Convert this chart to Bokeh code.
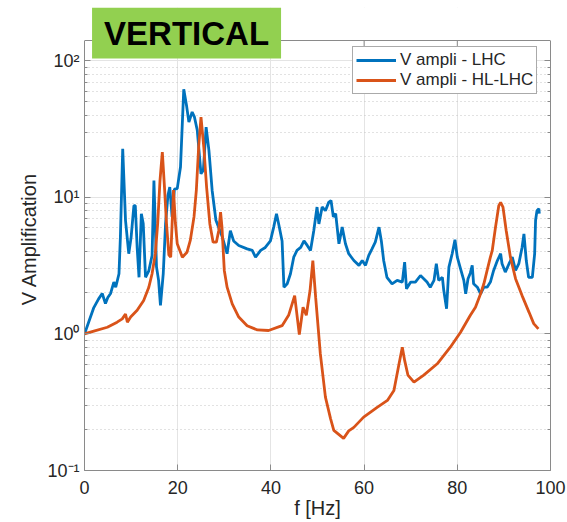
import math
from bokeh.plotting import figure
from bokeh.models import (FixedTicker, LogAxis, Label, Legend, LegendItem,
                          BoxAnnotation, Span)
from bokeh.embed import file_html
from bokeh.resources import INLINE

# ---- data ----
f_lhc = [0.0, 1.0, 2.0, 3.0, 3.8, 4.5, 5.0, 5.6, 6.3, 6.7,
         7.4, 7.7, 8.2, 8.8, 9.5, 10.0, 10.6, 10.9, 11.3, 11.7,
         12.2, 12.6, 13.1, 13.8, 14.5, 14.9, 15.45, 15.9, 16.3, 16.9,
         17.4, 17.9, 18.3, 18.8, 19.3, 19.9, 20.6, 21.3, 21.9, 22.4,
         23.1, 23.6, 24.2, 25.0, 25.5, 26.1, 26.7, 27.4, 28.2, 28.9,
         29.6, 30.2, 30.6, 31.3, 32.0, 33.1, 34.9, 36.0, 36.7, 37.8,
         38.8, 39.9, 40.6, 41.2, 41.7, 42.4, 42.8, 43.5, 44.2, 44.9,
         45.6, 46.4, 47.1, 47.8, 48.5, 49.2, 49.9, 50.3, 51.0, 51.7,
         52.4, 52.9, 53.4, 53.9, 54.6, 55.3, 56.0, 56.7, 57.8, 58.9,
         59.6, 60.3, 61.0, 61.7, 62.4, 63.2, 63.7, 64.2, 64.9, 66.0,
         67.1, 68.2, 68.7, 69.1, 70.0, 71.0, 72.1, 72.8, 73.5, 74.2,
         75.0, 75.5, 76.0, 76.8, 77.1, 77.7, 78.2, 78.9, 79.5, 80.0,
         80.7, 81.4, 81.8, 82.3, 82.8, 83.2, 83.5, 84.3, 85.0, 85.7,
         86.4, 87.1, 87.8, 88.6, 89.3, 89.6, 90.3, 91.1, 91.8, 92.5,
         93.2, 93.9, 94.3, 94.8, 95.3, 96.1, 96.6, 96.8, 97.1, 97.5,
         97.6]
a_lhc = [1.0, 1.25, 1.56, 1.8, 1.98, 1.67, 1.85, 1.98, 2.4, 2.2,
         2.76, 5.1, 22.7, 6.8, 3.87, 5.1, 8.7, 8.7, 4.3, 2.6,
         7.6, 6.45, 2.6, 2.9, 3.76, 13.3, 3.1, 2.47, 1.62, 2.77,
         6.45, 10.3, 11.9, 7.2, 11.5, 11.6, 16.7, 62.0, 47.0, 35.6,
         42.2, 38.7, 31.0, 14.9, 15.8, 32.7, 22.1, 11.2, 6.8, 5.9,
         5.1, 4.3, 3.87, 5.7, 4.8, 4.45, 4.2, 4.09, 3.65, 4.09,
         4.3, 4.8, 6.06, 7.6, 6.3, 4.8, 2.2, 2.33, 2.76, 3.65,
         4.09, 4.3, 4.8, 4.45, 4.09, 5.7, 8.5, 6.4, 8.5, 8.0,
         9.2, 9.5, 7.2, 7.6, 4.58, 6.06, 4.58, 3.87, 3.45, 3.18,
         3.45, 3.18, 3.76, 4.2, 4.7, 6.06, 4.8, 3.45, 2.6, 2.33,
         2.47, 2.4, 3.36, 2.14, 2.4, 2.4, 2.68, 2.54, 2.4, 2.2,
         2.47, 3.27, 2.47, 2.6, 2.08, 1.53, 3.09, 3.87, 4.9, 3.65,
         3.0, 2.47, 1.97, 2.54, 2.8, 3.18, 2.33, 2.2, 1.97, 2.2,
         2.2, 2.4, 2.92, 3.45, 3.87, 3.27, 2.84, 3.27, 3.65, 2.92,
         3.27, 4.3, 5.4, 3.45, 2.6, 2.6, 3.87, 6.8, 8.0, 8.27,
         7.6]

f_hl = [0.0, 2.0, 4.9, 7.0, 8.1, 8.8, 9.2, 9.9, 11.3, 12.7,
        13.8, 14.5, 15.2, 15.7, 16.2, 16.7, 17.2, 17.6, 18.1, 18.5,
        18.8, 19.1, 19.5, 19.9, 21.0, 22.0, 22.7, 23.5, 24.0, 24.5,
        25.0, 25.6, 26.2, 26.9, 27.6, 28.3, 28.8, 29.2, 29.5, 30.0,
        30.6, 31.7, 33.1, 34.9, 37.1, 39.5, 42.4, 43.8, 45.1, 46.1,
        46.9, 47.6, 48.4, 49.0, 49.6, 50.6, 51.7, 52.8, 53.5, 55.6,
        56.7, 57.8, 59.9, 62.8, 65.0, 66.4, 67.5, 68.2, 68.7, 69.4,
        70.7, 72.8, 75.7, 78.5, 80.7, 82.8, 83.9, 85.0, 85.7, 86.4,
        87.1, 87.5, 88.2, 88.9, 89.3, 89.8, 90.5, 91.4, 92.5, 93.9,
        95.4, 96.4, 97.4]
a_hl = [1.0, 1.05, 1.12, 1.22, 1.29, 1.4, 1.22, 1.33, 1.49, 1.76,
        2.2, 2.76, 3.87, 6.4, 13.3, 21.5, 11.3, 6.4, 3.8, 3.65,
        6.4, 11.3, 6.5, 4.58, 3.65, 3.97, 4.84, 7.2, 11.3, 23.4,
        38.7, 23.4, 11.9, 6.4, 4.7, 4.7, 5.7, 7.8, 6.06, 2.92,
        2.2, 1.66, 1.33, 1.15, 1.07, 1.06, 1.15, 1.37, 1.91, 0.99,
        1.57, 1.37, 2.08, 3.45, 1.86, 0.72, 0.345, 0.24, 0.197, 0.172,
        0.195, 0.207, 0.246, 0.29, 0.326, 0.386, 0.605, 0.8, 0.64, 0.5,
        0.444, 0.5, 0.605, 0.8, 1.03, 1.37, 1.57, 1.97, 2.33, 2.92,
        3.65, 4.09, 6.06, 8.7, 9.2, 8.5, 5.7, 3.65, 2.54, 1.91,
        1.44, 1.19, 1.09]

series_labels = ["V ampli - LHC", "V ampli - HL-LHC"]
x_ticks = [0, 20, 40, 60, 80, 100]
y_ticks = [0.1, 1, 10, 100]
y_tick_labels = ["10\u207b\u00b9", "10\u2070", "10\u00b9", "10\u00b2"]
y_minor = [m * d for d in (0.1, 1, 10) for m in range(2, 10)]
title_text = "VERTICAL"
x_label = "f [Hz]"
y_label = "V Amplification"

# ---- styling / layout ----
FONT = "Liberation Sans"
BLUE = "#0072BD"
ORANGE = "#D95319"
AX = "#8a8a8a"
TXT = "#262626"
Y_MIN = 0.1
Y_TOP = 141.0          # top edge of the axes box
DECADE_PX = 136.5      # pixels per decade on the y axis
HEADROOM_PX = 33       # room above the axes box for the green tag
Y_MAX = 10 ** (math.log10(Y_TOP) + HEADROOM_PX / DECADE_PX)


def y_px_above_top(px):
    return 10 ** (math.log10(Y_TOP) + px / DECADE_PX)


p = figure(width=567, height=522, x_range=(0, 100), y_range=(Y_MIN, Y_MAX),
           y_axis_type="log", output_backend="svg", toolbar_location=None,
           min_border_left=84, min_border_right=17, min_border_top=7,
           min_border_bottom=52)
p.title.visible = False
p.background_fill_color = "white"
p.border_fill_color = "white"
p.outline_line_color = None

xt = FixedTicker(ticks=x_ticks, minor_ticks=[])
yt = FixedTicker(ticks=y_ticks, minor_ticks=y_minor)

p.xgrid.ticker = xt
p.ygrid.ticker = yt
p.xgrid.grid_line_color = "#e4e4e4"
p.ygrid.grid_line_color = "#e4e4e4"
p.ygrid.minor_grid_line_color = "#c4c4c4"
p.ygrid.minor_grid_line_dash = "1 3"


def style_axis(ax):
    ax.axis_line_color = AX
    ax.major_tick_line_color = AX
    ax.minor_tick_line_color = AX
    ax.major_tick_in = 6
    ax.major_tick_out = 0
    ax.minor_tick_in = 3
    ax.minor_tick_out = 0
    ax.major_label_text_font = FONT
    ax.major_label_text_color = TXT


xa = p.xaxis[0]
xa.ticker = xt
style_axis(xa)
xa.minor_tick_line_color = None
xa.major_label_text_font_size = "18px"
xa.major_label_standoff = 10
xa.axis_label = x_label
xa.axis_label_text_font = FONT
xa.axis_label_text_font_size = "20px"
xa.axis_label_text_font_style = "normal"
xa.axis_label_text_color = TXT
xa.axis_label_standoff = 0

ya = p.yaxis[0]
ya.ticker = yt
ya.bounds = (Y_MIN, Y_TOP)
style_axis(ya)
ya.major_label_overrides = {t: s for t, s in zip(y_ticks, y_tick_labels)}
ya.major_label_text_font_size = "18px"
ya.major_label_standoff = 5
ya.axis_label = y_label
ya.axis_label_text_font = FONT
ya.axis_label_text_font_size = "20px"
ya.axis_label_text_font_style = "normal"
ya.axis_label_text_color = TXT
ya.axis_label_standoff = 4

# mirrored right axis (box on), tick marks only
right = LogAxis(ticker=yt, bounds=(Y_MIN, Y_TOP))
style_axis(right)
right.major_label_overrides = {t: "" for t in y_ticks}
right.major_label_standoff = 0
p.add_layout(right, "right")

r1 = p.line(f_lhc, a_lhc, line_color=BLUE, line_width=2.8)
r2 = p.line(f_hl, a_hl, line_color=ORANGE, line_width=2.8)

# blank the head-room above the axes box and draw the box's top edge
p.add_layout(BoxAnnotation(bottom=Y_TOP, fill_color="white", fill_alpha=1,
                           line_color=None, level="annotation"))
p.add_layout(Span(location=Y_TOP, dimension="width", line_color=AX,
                  line_width=1))
inner_x = x_ticks[1:-1]
p.segment(x0=inner_x, x1=inner_x, y0=[Y_TOP] * len(inner_x),
          y1=[y_px_above_top(-6)] * len(inner_x), line_color=AX, line_width=1)

legend = Legend(items=[LegendItem(label=series_labels[0], renderers=[r1]),
                       LegendItem(label=series_labels[1], renderers=[r2])],
                location=(268, 376), margin=0, padding=3, spacing=0,
                label_height=20, glyph_height=20, glyph_width=40,
                label_standoff=4, label_text_font=FONT,
                label_text_font_size="17px", label_text_color=TXT,
                border_line_color="#555555", border_line_width=1,
                background_fill_color="white", background_fill_alpha=1)
p.add_layout(legend)

# green "VERTICAL" tag straddling the top edge of the axes box
title = Label(x=21.9, y=y_px_above_top(7.5), text=title_text,
              text_font=FONT, text_font_size="33px", text_font_style="bold",
              text_color="black", text_align="center", text_baseline="middle",
              background_fill_color="#92D050", background_fill_alpha=1,
              padding=(12, 7), level="overlay")
p.add_layout(title)

open("out.html", "w").write(file_html(p, INLINE))
